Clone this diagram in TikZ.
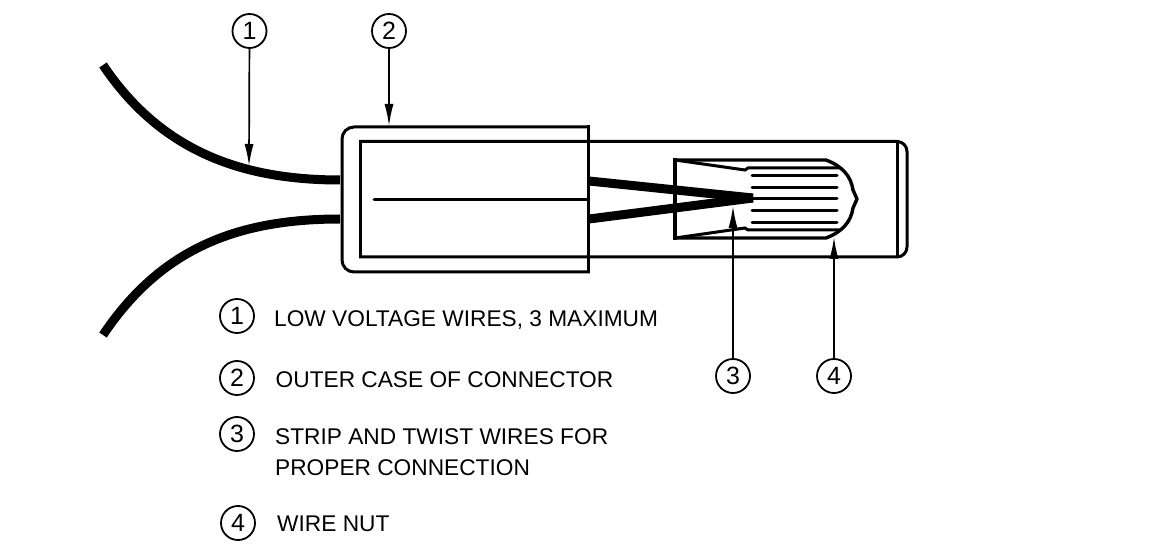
\documentclass[tikz,border=0pt]{standalone}
\usepackage{fontspec}
\setmainfont{Liberation Sans}
\usetikzlibrary{arrows.meta}
\def \tipSize {Latex[length=22pt,width=9pt]}
\tikzset{
   callout/.style={draw,circle,line width=1.8pt,minimum size=34pt,inner sep=0pt,font=\fontsize{25}{25}\selectfont},
   note/.style={anchor=base west,inner sep=0pt,align=left,font=\fontsize{22.7}{31}\selectfont},
   leader/.style={line width=1.7pt,-{\tipSize}},
   wire/.style={line width=9pt},
   body/.style={line width=3pt,line cap=rect},
   rib/.style={line width=3pt,line cap=round}
}
\begin{document}
\begin{tikzpicture}[x=1pt,y=-1pt]
   \useasboundingbox (0,0) rectangle (1176,553);
   \draw[wire] (103,65) .. controls (160,150) and (240,180) .. (340,180);
   \draw[wire] (103,335) .. controls (160,250) and (235,219) .. (340,219);
   \draw[wire] (589,181) -- (753,198);
   \draw[wire] (589,219) -- (753,198);
   \draw[body,rounded corners=10pt] (360.5,141.5) -- (907,141.5) -- (907,257) -- (360.5,257);
   \draw[body] (360.5,141.5) -- (360.5,257);
   \draw[body] (897,141.5) -- (897,257);
   \draw[body,rounded corners=12pt] (588,272) -- (342,272) -- (342,127) -- (588,127);
   \draw[body] (588,127) -- (588,272);
   \draw[body,line cap=round] (374,200) -- (588,200);
   \draw[line width=3.4pt,line join=round] (675,160) -- (826,160) .. controls (842,166) and (851,176) .. (853,190) -- (857,199) -- (853,208) .. controls (851,222) and (842,232) .. (826,238) -- (675,238) -- cycle;
   \draw[line width=4.5pt] (675,158) -- (675,240);
   \draw[body,line cap=butt] (675,160) -- (745,170) -- (748,168) -- (840,168);
   \draw[body,line cap=butt] (675,238) -- (745,228) -- (748,230) -- (840,230);
   \foreach \ribY in {176,188,199,211,223} {
      \draw[rib] (752,\ribY) -- (837,\ribY);
   }
   \coordinate (wireTip) at (249,166);
   \coordinate (caseTip) at (389,126);
   \coordinate (twistTip) at (733,206);
   \coordinate (nutTip) at (834,237);
   \node[callout] (wireCall) at (249.5,31) {1};
   \node[callout] (caseCall) at (389,31) {2};
   \node[callout] (twistCall) at (733,376) {3};
   \node[callout] (nutCall) at (834,376) {4};
   \draw[leader] (wireCall) -- (wireTip);
   \draw[leader] (caseCall) -- (caseTip);
   \draw[leader] (twistCall) -- (twistTip);
   \draw[leader] (nutCall) -- (nutTip);
   \node[callout] (wireKey) at (237,316) {1};
   \node[callout] (caseKey) at (237,378) {2};
   \node[callout] (twistKey) at (237,434) {3};
   \node[callout] (nutKey) at (238,523) {4};
   \node[note] (wireText) at (274,326.7) {LOW VOLTAGE WIRES, 3 MAXIMUM};
   \node[note] (caseText) at (275.5,387.3) {OUTER CASE OF CONNECTOR};
   \node[note] (twistText) at (275,475.3) {STRIP AND TWIST WIRES FOR\\PROPER CONNECTION};
   \node[note] (nutText) at (277,531) {WIRE NUT};
\end{tikzpicture}
\end{document}
